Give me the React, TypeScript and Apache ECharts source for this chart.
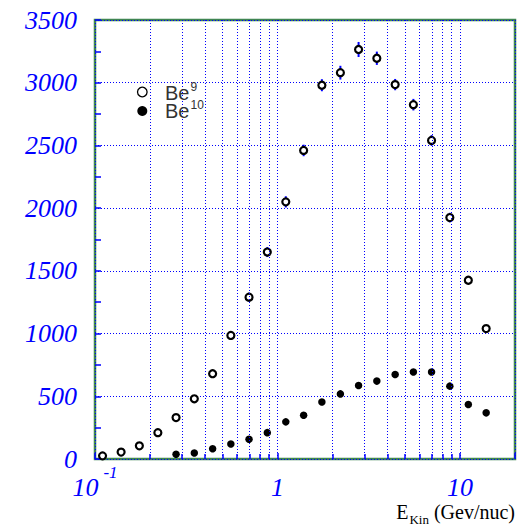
import React, { useEffect, useRef } from 'react';
import * as echarts from 'echarts';

// Kinetic energy (GeV/nuc), bin centres
const energies = [0.110, 0.139, 0.175, 0.221, 0.278, 0.350, 0.441, 0.555, 0.698, 0.879, 1.11, 1.39, 1.75, 2.21, 2.78, 3.50, 4.41, 5.55, 6.98, 8.79, 11.1, 13.9];
// Be9 counts (open circles)
const be9 = [25, 55, 105, 210, 330, 480, 680, 985, 1290, 1650, 2050, 2460, 2980, 3080, 3265, 3195, 2985, 2825, 2540, 1925, 1425, 1040];
// Be9 statistical errors (half-length)
const be9Err = [5, 7, 10, 14, 18, 22, 26, 32, 36, 40, 45, 46, 48, 55, 60, 53, 45, 46, 42, 38, 30, 25];
// Be10 counts (filled circles); null = no point
const be10 = [null, null, null, null, 38, 48, 82, 120, 157, 210, 296, 349, 455, 519, 586, 621, 674, 693, 693, 581, 434, 368];
// minor log grid positions
const minorGrid = [0.2, 0.3, 0.4, 0.5, 0.6, 0.7, 0.8, 0.9, 2, 3, 4, 5, 6, 7, 8, 9];
const yMin = 0;
const yMax = 3500;
const yStep = 500;

const BLUE = '#0000ff';
const GREEN = '#3f8552';

export default function App() {
  const ref = useRef<HTMLDivElement>(null);
  useEffect(() => {
    if (!ref.current) return;
    const chart = echarts.init(ref.current, null, { renderer: 'svg' });
    const be9Data = energies.map((e, i) => [e, be9[i]]);
    const be10Data = energies.map((e, i) => [e, be10[i]]).filter((d) => d[1] !== null);
    const errData = energies.map((e, i) => [e, be9[i] - be9Err[i], be9[i] + be9Err[i]]);
    const serif = "'Liberation Serif', 'Times New Roman', serif";
    const sans = "'Liberation Sans', Arial, sans-serif";
    const numStyle = { fontSize: 26, fontStyle: 'italic', fontFamily: serif, color: BLUE };
    const legendRich = {
      m: { fontSize: 20, fontFamily: sans, fill: '#333', lineHeight: 18 },
      s: { fontSize: 12, fontFamily: sans, fill: '#333', lineHeight: 4, padding: [0, 0, 13, 1] },
    };
    chart.setOption({
      animation: false,
      backgroundColor: '#ffffff',
      grid: {
        left: 95, right: 2, top: 20, bottom: 66,
        show: true, borderColor: GREEN, borderWidth: 2.5, backgroundColor: 'transparent',
      },
      xAxis: {
        type: 'log', logBase: 10, min: 0.1, max: 20,
        axisLine: { show: false },
        axisTick: { show: true, inside: true, length: 6, lineStyle: { color: BLUE, width: 1.5 } },
        splitLine: { show: true, lineStyle: { color: BLUE, type: [1, 2], width: 1 } },
        axisLabel: {
          margin: 4,
          formatter: (v: number) => {
            const lg = Math.log10(v);
            const l = Math.round(lg);
            if (Math.abs(lg - l) > 1e-6) return '';
            if (l === -1) return '{n|10}{s|-1}';
            return '{n|' + String(Math.round(Math.pow(10, l))) + '}';
          },
          rich: {
            n: { ...numStyle, lineHeight: 48 },
            s: { fontSize: 17, fontStyle: 'italic', fontFamily: serif, color: BLUE, lineHeight: 17, padding: [0, 0, 30, 5] },
          },
        },
      },
      yAxis: {
        type: 'value', min: yMin, max: yMax, interval: yStep,
        axisLine: { show: false },
        axisTick: { show: true, inside: true, length: 6, lineStyle: { color: BLUE, width: 1.5 } },
        minorTick: { show: true, splitNumber: 2, length: 6, lineStyle: { color: BLUE, width: 1.5 } },
        splitLine: { show: true, lineStyle: { color: BLUE, type: [1, 2], width: 1 } },
        axisLabel: {
          margin: 18,
          formatter: (v: number) => '{n|' + String(v) + '}',
          rich: { n: { ...numStyle, lineHeight: 26 } },
        },
      },
      series: [
        {
          type: 'scatter', data: [], z: 1, silent: true,
          markLine: {
            silent: true, symbol: ['none', 'none'], label: { show: false },
            lineStyle: { color: BLUE, type: [1, 2], width: 1 },
            data: minorGrid.map((v) => ({ xAxis: v })),
          },
        },
        {
          type: 'scatter', data: [], z: 1, silent: true,
          markLine: {
            silent: true, symbol: ['none', 'none'], label: { show: false },
            lineStyle: { color: BLUE, type: 'solid', width: 1.5 },
            data: minorGrid.map((v) => [{ coord: [v, 0] }, { coord: [v, 40] }]),
          },
        },
        {
          type: 'custom', z: 2, silent: true,
          data: errData,
          encode: { x: 0, y: [1, 2] },
          renderItem: (params: any, api: any) => {
            const x = api.value(0);
            const p1 = api.coord([x, api.value(1)]);
            const p2 = api.coord([x, api.value(2)]);
            return {
              type: 'line',
              shape: { x1: p1[0], y1: p1[1], x2: p2[0], y2: p2[1] },
              style: { stroke: BLUE, lineWidth: 2 },
            };
          },
        },
        {
          name: 'Be9', type: 'scatter', z: 3, data: be9Data, symbol: 'circle', symbolSize: 7,
          itemStyle: { color: '#ffffff', borderColor: '#000000', borderWidth: 2.2, opacity: 1 },
        },
        {
          name: 'Be10', type: 'scatter', z: 3, data: be10Data, symbol: 'circle', symbolSize: 7.5,
          itemStyle: { color: '#000000', opacity: 1 },
        },
      ],
      graphic: [
        { type: 'circle', shape: { cx: 142.3, cy: 92, r: 4.8 }, style: { fill: '#ffffff', stroke: '#000', lineWidth: 1.3 }, z: 10 },
        { type: 'circle', shape: { cx: 142.3, cy: 111, r: 5 }, style: { fill: '#000' }, z: 10 },
        {
          type: 'text', x: 165, y: 84, z: 10,
          style: { text: '{m|Be}{s|9}\n{m|Be}{s|10}', verticalAlign: 'top', align: 'left', rich: legendRich },
        },
        {
          type: 'text', x: 515, y: 511.5, z: 10,
          style: {
            text: '{e|E}{k|Kin}{e| (Gev/nuc)}', verticalAlign: 'middle', align: 'right',
            rich: {
              e: { fontSize: 20, fontFamily: serif, fill: '#000', lineHeight: 20 },
              k: { fontSize: 13, fontFamily: serif, fill: '#000', lineHeight: 13, padding: [15, 0, 0, 1] },
            },
          },
        },
      ],
    });
    return () => chart.dispose();
  }, []);
  return (
    <div
      ref={ref}
      style={{ position: 'fixed', left: 0, top: 0, width: 518, height: 525, background: '#fff' }}
    />
  );
}
